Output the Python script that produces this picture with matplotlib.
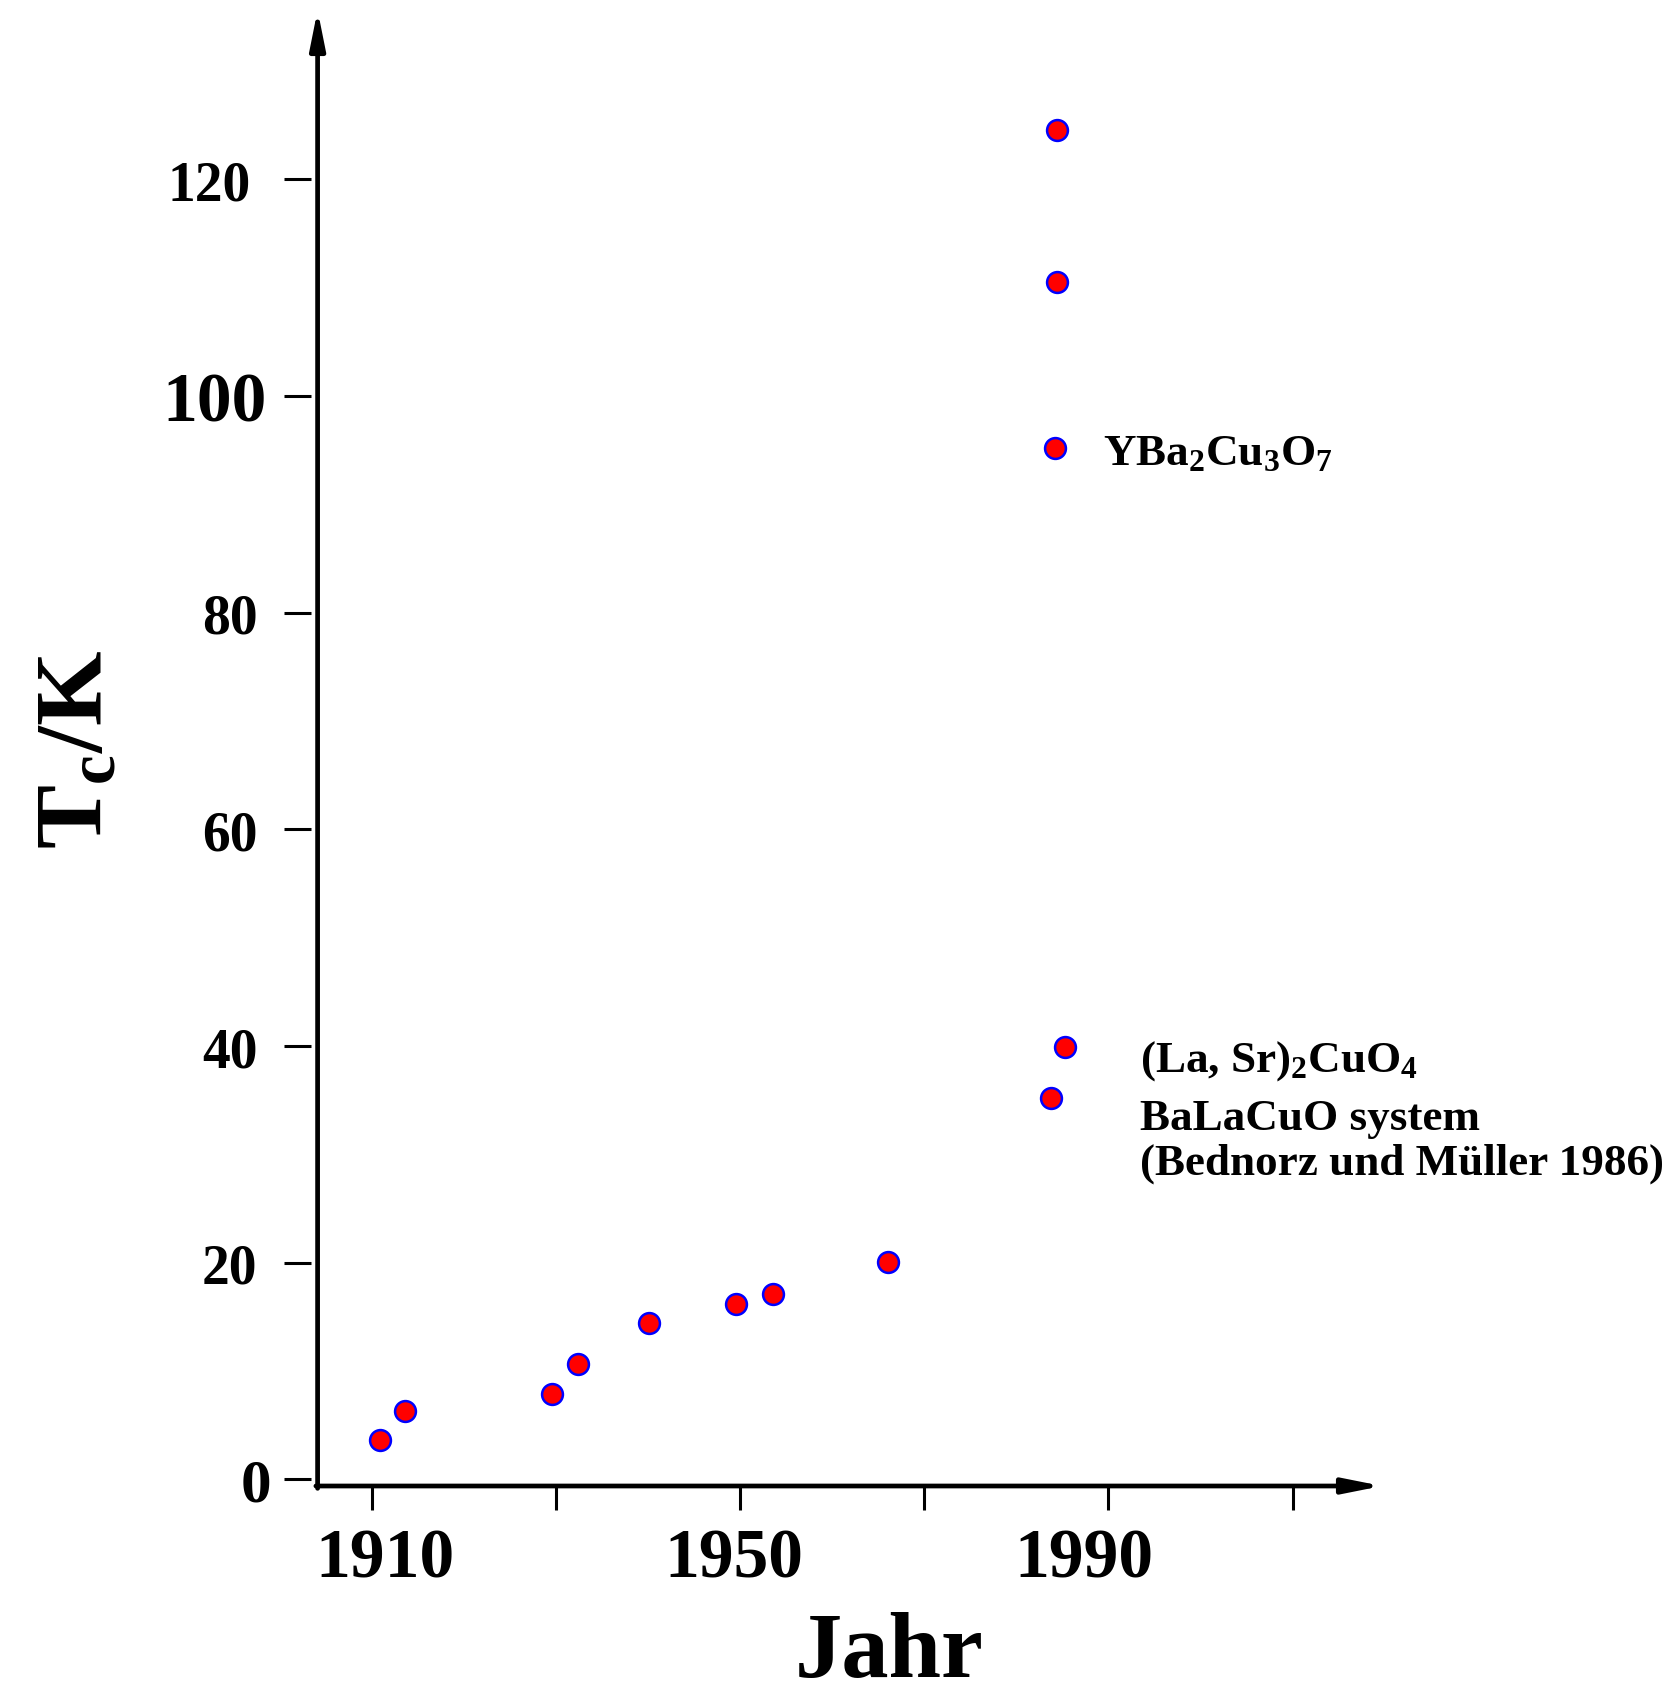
import matplotlib
matplotlib.use("Agg")
import matplotlib.pyplot as plt
from matplotlib.transforms import ScaledTranslation

plt.rcParams['font.family'] = ['Liberation Serif', 'DejaVu Serif']
plt.rcParams['font.weight'] = 'bold'
plt.rcParams['mathtext.fontset'] = 'custom'
plt.rcParams['mathtext.rm'] = 'Liberation Serif:bold'
plt.rcParams['mathtext.it'] = 'Liberation Serif:bold'
plt.rcParams['mathtext.bf'] = 'Liberation Serif:bold'

# Tc of superconductors vs. year of discovery
years = [1910.9, 1913.6, 1929.6, 1932.4, 1940.1, 1949.5, 1953.6, 1966.1,
         1983.8, 1985.3, 1984.2, 1984.4, 1984.4]
tc = [3.6, 6.3, 7.9, 10.7, 14.4, 16.2, 17.1, 20.1,
      35.2, 39.9, 95.2, 110.5, 124.5]

xticks = [1910, 1930, 1950, 1970, 1990, 2010]
xticklabels = ['1910', '', '1950', '', '1990', '']
xtick_shift = [13, 0, -6, 0, -25, 0]   # pixels, labels sit a bit off their ticks
yticks = [0, 20, 40, 60, 80, 100, 120]
yticklabels = ['0', '20', '40', '60', '80', '100', '120']
ytick_sizes = [44, 40, 40, 40, 40, 50, 40]
ytick_pads = [9, 19, 19, 19, 19, 12, 24]

W, H = 1680, 1699
fig = plt.figure(figsize=(W / 100, H / 100), dpi=100)
left, right, top, bottom = 311, 1382, 11, 1487
ax = fig.add_axes([left / W, (H - bottom) / H, (right - left) / W, (bottom - top) / H])
ax.set_xlim(1903.4, 2019.7)
ax.set_ylim(-0.6, 135.6)

for s in ax.spines.values():
    s.set_visible(False)

# axes drawn as arrows
x0 = 6.6 / (right - left)
arrow = dict(arrowstyle='-|>,head_length=0.6,head_width=0.12', lw=3.4, color='k',
             mutation_scale=38, shrinkA=0, shrinkB=0)
ax.annotate('', xy=(1, 0), xytext=(x0 - 0.0016, 0), xycoords='axes fraction',
            arrowprops=arrow, annotation_clip=False)
ax.annotate('', xy=(x0, 1), xytext=(x0, -0.0016), xycoords='axes fraction',
            arrowprops=arrow, annotation_clip=False)

ax.scatter(years, tc, s=225, c='red', edgecolors='blue', linewidths=1.8,
           zorder=5, clip_on=False)

ax.set_xticks(xticks)
ax.set_xticklabels(xticklabels, fontsize=50, fontweight='bold')
ax.tick_params(axis='x', direction='out', length=17, width=2.2, pad=13)
for lab, dx in zip(ax.get_xticklabels(), xtick_shift):
    lab.set_transform(lab.get_transform() + ScaledTranslation(dx / 100, 0, fig.dpi_scale_trans))
ax.set_yticks(yticks)
ax.set_yticklabels(yticklabels, fontweight='bold')
ax.tick_params(axis='y', direction='out', length=19.5, width=2.2)
for lab, sz in zip(ax.get_yticklabels(), ytick_sizes):
    lab.set_fontsize(sz)
for tk, pd in zip(ax.yaxis.get_major_ticks(), ytick_pads):
    tk.set_pad(pd)

ax.set_xlabel('Jahr', fontsize=68, fontweight='bold')
ax.xaxis.set_label_coords(0.54, -0.085)
ax.set_ylabel(r'T$_{\mathrm{c}}$/K', fontsize=69, fontweight='bold')
ax.yaxis.set_label_coords(-0.216, 0.50)
ax.yaxis.label.set_verticalalignment('center')

ax.text(1989.4, 93.7, r'YBa$_2$Cu$_3$O$_7$', fontsize=32.5, fontweight='bold',
        va='baseline', ha='left')
ax.text(1993.4, 37.7, r'(La, Sr)$_2$CuO$_4$', fontsize=32.5, fontweight='bold',
        va='baseline', ha='left')
ax.text(1993.4, 32.3, 'BaLaCuO system', fontsize=32.5, fontweight='bold',
        va='baseline', ha='left')
ax.text(1993.4, 28.2, '(Bednorz und Müller 1986)', fontsize=32.5, fontweight='bold',
        va='baseline', ha='left')

fig.savefig('out.png', dpi=100)
